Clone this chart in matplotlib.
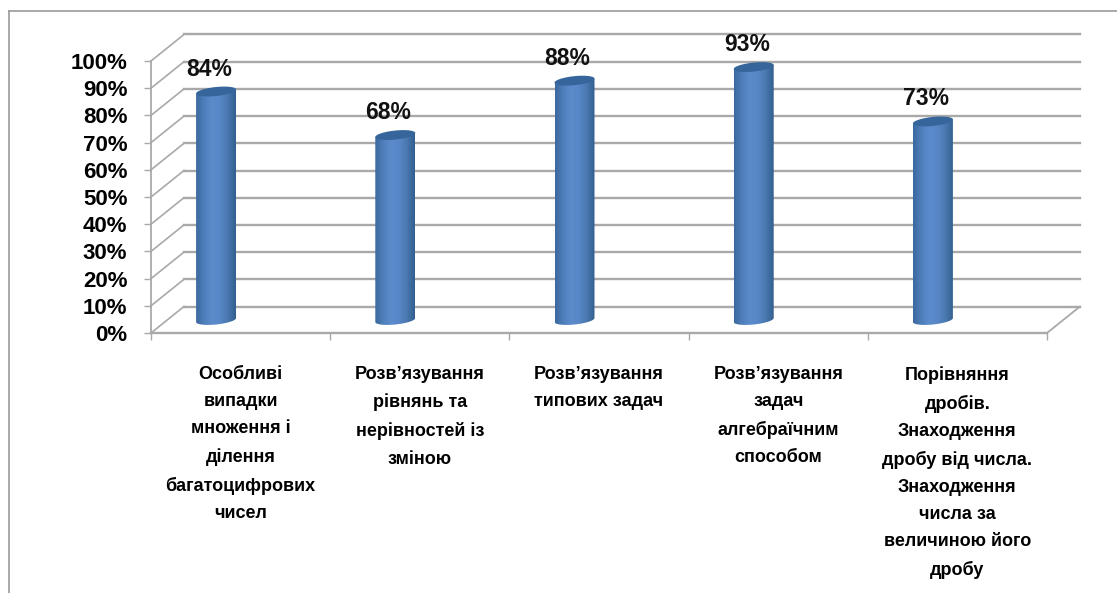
import matplotlib
matplotlib.use('Agg')
import matplotlib.pyplot as plt
import numpy as np
from matplotlib.colors import LinearSegmentedColormap
from matplotlib.lines import Line2D
from matplotlib.patches import Polygon

plt.rcParams['font.family'] = ['Liberation Sans', 'DejaVu Sans']

categories = [
    'Особливі\nвипадки\nмноження і\nділення\nбагатоцифрових\nчисел',
    'Розв’язування\nрівнянь та\nнерівностей із\nзміною',
    'Розв’язування\nтипових задач',
    'Розв’язування\nзадач\nалгебраїчним\nспособом',
    'Порівняння\nдробів.\nЗнаходження\nдробу від числа.\nЗнаходження\nчисла за\nвеличиною його\nдробу',
]
values = [84, 68, 88, 93, 73]
y_ticks = [0, 10, 20, 30, 40, 50, 60, 70, 80, 90, 100]

W, H = 1117, 593
GRID = '#a9a9a9'

fig = plt.figure(figsize=(W / 100, H / 100), dpi=100)
ax = fig.add_axes([151 / W, 1 - 333 / H, 896 / W, 272 / H])
ax.set_xlim(0, len(values))
ax.set_ylim(0, 100)
ax.patch.set_alpha(0)
for s in ax.spines.values():
    s.set_visible(False)

# pixels per data unit, used for the fake 3d depth
px_x = 896 / len(values)
px_y = 272 / 100
depth_x = 33 / px_x
depth_y = 26.5 / px_y

# walls
for v in y_ticks:
    ax.plot([depth_x, 5 + depth_x], [v + depth_y, v + depth_y], color=GRID, lw=1.7, clip_on=False, zorder=1)
    ax.plot([0, depth_x], [v, v + depth_y], color=GRID, lw=1.2, clip_on=False, zorder=1)
ax.plot([0, 5], [0, 0], color=GRID, lw=1.7, clip_on=False, zorder=1)
ax.plot([5, 5 + depth_x], [0, depth_y], color=GRID, lw=1.3, clip_on=False, zorder=1)
ax.plot([0, 0], [0, 100], color=GRID, lw=1.3, clip_on=False, zorder=1)

# cylinders
cmap = LinearSegmentedColormap.from_list('cyl', ['#3b699f', '#4f7fbb', '#5b8bcb', '#5787c6', '#4a78b0', '#33608f'])
grad = np.linspace(0, 1, 64).reshape(1, -1)
half_w = 20 / px_x
half_h = 4.5 / px_y
tilt = 2 / px_y
base = 13 / px_y
t = np.linspace(0, 2 * np.pi, 80)


def ellipse(cx, cy):
    xs = cx + half_w * np.cos(t)
    ys = cy + half_h * np.sin(t) + tilt * np.cos(t)
    return xs, ys


for i, v in enumerate(values):
    cx = i + 0.5 - 24.5 / px_x
    top = base + v
    xt, yt = ellipse(cx, top)
    xb, yb = ellipse(cx, base)
    # lower half of the base, upper side closed along the top
    lower = np.sin(t) <= 0
    order = np.argsort(xb[lower])
    body = np.vstack([
        np.column_stack([xb[lower][order], yb[lower][order]]),
        [[cx + half_w, top + tilt], [cx - half_w, top - tilt]],
    ])
    clip = Polygon(body, closed=True, transform=ax.transData, fc='none', ec='none')
    ax.add_patch(clip)
    im = ax.imshow(grad, extent=[cx - half_w, cx + half_w, base - 3 * half_h, top + 3 * half_h],
                   aspect='auto', cmap=cmap, zorder=3, interpolation='bilinear')
    im.set_clip_path(clip)
    ax.fill(xt, yt, color='#35659b', zorder=4, clip_on=False, lw=0)
    ax.annotate(f'{v}%', (cx, top), xytext=(-7, 11), textcoords='offset pixels', ha='center', va='bottom',
                fontsize=16.5, fontweight='bold', color='#111111', annotation_clip=False, zorder=5)
ax.set_xlim(0, len(values))
ax.set_ylim(0, 100)

ax.set_yticks(y_ticks)
ax.set_yticklabels([f'{v}%' for v in y_ticks], fontsize=16, fontweight='bold', color='black')
ax.set_xticks(range(len(values) + 1))
ax.set_xticklabels([])
ax.tick_params(axis='both', color=GRID, width=1, length=5, pad=12)
ax.tick_params(axis='y', pad=12)

for i, name in enumerate(categories):
    ax.annotate(name, (i + 0.5, 0), xytext=(0, -33), textcoords='offset pixels', ha='center', va='top',
                fontsize=13, fontweight='bold', color='black', linespacing=1.78, annotation_clip=False)

# outer chart frame, only the top and left sides are in the crop
fig.add_artist(Line2D([9 / W, 9 / W], [0, 1 - 11 / H], color='#9a9a9a', lw=1.2))
fig.add_artist(Line2D([9 / W, 1], [1 - 11 / H, 1 - 11 / H], color='#9a9a9a', lw=1.2))

fig.savefig('out.png', dpi=100, facecolor='white')
